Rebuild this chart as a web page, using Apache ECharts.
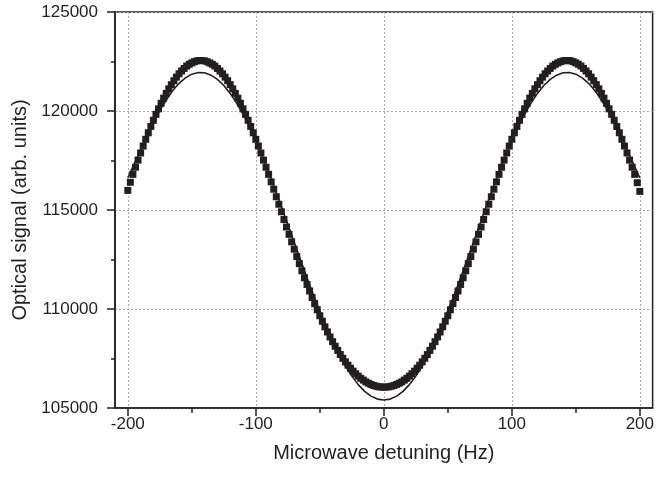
<!DOCTYPE html>
<html>
<head>
<meta charset="utf-8">
<script src="https://cdn.jsdelivr.net/npm/echarts@6.0.0/dist/echarts.min.js"></script>
<style>
html, body { margin: 0; padding: 0; background: #fff; }
#main { width: 657px; height: 479px; }
</style>
</head>
<body>
<div id="main"></div>
<script>
// measured points, 2 Hz steps
var detuning = [
    -200, -198, -196, -194, -192, -190, -188, -186, -184, -182,
    -180, -178, -176, -174, -172, -170, -168, -166, -164, -162,
    -160, -158, -156, -154, -152, -150, -148, -146, -144, -142,
    -140, -138, -136, -134, -132, -130, -128, -126, -124, -122,
    -120, -118, -116, -114, -112, -110, -108, -106, -104, -102,
    -100, -98, -96, -94, -92, -90, -88, -86, -84, -82,
    -80, -78, -76, -74, -72, -70, -68, -66, -64, -62,
    -60, -58, -56, -54, -52, -50, -48, -46, -44, -42,
    -40, -38, -36, -34, -32, -30, -28, -26, -24, -22,
    -20, -18, -16, -14, -12, -10, -8, -6, -4, -2,
    0,
    2, 4, 6, 8, 10, 12, 14, 16, 18, 20,
    22, 24, 26, 28, 30, 32, 34, 36, 38, 40,
    42, 44, 46, 48, 50, 52, 54, 56, 58, 60,
    62, 64, 66, 68, 70, 72, 74, 76, 78, 80,
    82, 84, 86, 88, 90, 92, 94, 96, 98, 100,
    102, 104, 106, 108, 110, 112, 114, 116, 118, 120,
    122, 124, 126, 128, 130, 132, 134, 136, 138, 140,
    142, 144, 146, 148, 150, 152, 154, 156, 158, 160,
    162, 164, 166, 168, 170, 172, 174, 176, 178, 180,
    182, 184, 186, 188, 190, 192, 194, 196, 198, 200
];
var signal = [
    115990, 116400, 116800, 117160, 117520, 117880, 118230, 118570, 118900, 119220,
    119530, 119830, 120110, 120390, 120650, 120890, 121120, 121330, 121530, 121710,
    121880, 122020, 122150, 122270, 122360, 122430, 122490, 122530, 122550, 122550,
    122530, 122490, 122430, 122360, 122270, 122150, 122020, 121880, 121710, 121530,
    121330, 121120, 120890, 120650, 120390, 120110, 119830, 119530, 119220, 118900,
    118570, 118230, 117880, 117520, 117160, 116800, 116420, 116050, 115670, 115290,
    114910, 114520, 114140, 113770, 113390, 113020, 112650, 112290, 111930, 111580,
    111240, 110910, 110580, 110270, 109960, 109660, 109380, 109100, 108840, 108590,
    108350, 108120, 107910, 107700, 107510, 107330, 107160, 107010, 106860, 106730,
    106610, 106500, 106410, 106320, 106250, 106190, 106140, 106100, 106070, 106060,
    106050,
    106060, 106070, 106100, 106140, 106190, 106250, 106320, 106410, 106500, 106610,
    106730, 106860, 107010, 107160, 107330, 107510, 107700, 107910, 108120, 108350,
    108590, 108840, 109100, 109380, 109660, 109960, 110270, 110580, 110910, 111240,
    111580, 111930, 112290, 112650, 113020, 113390, 113770, 114140, 114520, 114910,
    115290, 115670, 116050, 116420, 116800, 117160, 117520, 117880, 118230, 118570,
    118900, 119220, 119530, 119830, 120110, 120390, 120650, 120890, 121120, 121330,
    121530, 121710, 121880, 122020, 122150, 122270, 122360, 122430, 122490, 122530,
    122550, 122550, 122530, 122490, 122430, 122360, 122270, 122150, 122020, 121880,
    121710, 121530, 121330, 121120, 120890, 120650, 120390, 120110, 119830, 119530,
    119220, 118900, 118570, 118230, 117880, 117520, 117160, 116800, 116380, 115940
];
// fitted curve
var fitDetuning = [
    -200, -195, -190, -185, -180, -175, -170, -165, -160, -155,
    -150, -145, -140, -135, -130, -125, -120, -115, -110, -105,
    -100, -95, -90, -85, -80, -75, -70, -65, -60, -55,
    -50, -45, -40, -35, -30, -25, -20, -15, -10, -5,
    0,
    5, 10, 15, 20, 25, 30, 35, 40, 45, 50,
    55, 60, 65, 70, 75, 80, 85, 90, 95, 100,
    105, 110, 115, 120, 125, 130, 135, 140, 145, 150,
    155, 160, 165, 170, 175, 180, 185, 190, 195, 200
];
var fitSignal = [
    116620, 117330, 118040, 118760, 119440, 120020, 120550, 121020, 121400, 121670,
    121860, 121940, 121930, 121810, 121600, 121290, 120890, 120400, 119840, 119210,
    118490, 117730, 116910, 116060, 115180, 114280, 113370, 112470, 111580, 110720,
    109900, 109120, 108380, 107720, 107120, 106610, 106180, 105840, 105600, 105450,
    105400,
    105450, 105600, 105840, 106180, 106610, 107120, 107720, 108380, 109120, 109900,
    110720, 111580, 112470, 113370, 114280, 115180, 116060, 116910, 117730, 118490,
    119210, 119840, 120400, 120890, 121290, 121600, 121810, 121930, 121940, 121860,
    121670, 121400, 121020, 120550, 120020, 119440, 118760, 118040, 117330, 116620
];
var xTicks = [-200, -100, 0, 100, 200];
var xMinorTicks = [-150, -50, 50, 150];

var ink = '#231f20';
var font = 'Liberation Sans';

var points = [];
for (var i = 0; i < detuning.length; i++) {
    points.push([detuning[i], signal[i]]);
}
var fit = [];
for (var j = 0; j < fitDetuning.length; j++) {
    fit.push([fitDetuning[j], fitSignal[j]]);
}

var myChart = echarts.init(document.getElementById('main'));
var option = {
    animation: false,
    backgroundColor: '#fff',
    grid: {
        left: 115, right: 1, top: 12, bottom: 71,
        show: true, borderColor: ink, borderWidth: 1.5
    },
    xAxis: [{
        type: 'value',
        min: -210,
        max: 210,
        name: 'Microwave detuning (Hz)',
        nameLocation: 'middle',
        nameGap: 35,
        nameTextStyle: { fontFamily: font, fontSize: 20, color: ink },
        axisLine: { onZero: false, lineStyle: { color: ink, width: 1.5 } },
        axisTick: { customValues: xTicks, inside: false, length: 8, lineStyle: { color: ink, width: 1.5 } },
        axisLabel: { customValues: xTicks, margin: 8, fontFamily: font, fontSize: 17, color: ink },
        splitLine: { show: true, lineStyle: { color: '#aaaaaa', type: [2, 2], width: 1 } }
    }, {
        // minor ticks only
        type: 'value',
        min: -210,
        max: 210,
        position: 'bottom',
        axisLine: { show: false, onZero: false },
        axisTick: { customValues: xMinorTicks, inside: false, length: 5, lineStyle: { color: ink, width: 1.5 } },
        axisLabel: { show: false },
        splitLine: { show: false }
    }],
    yAxis: {
        type: 'value',
        min: 105000,
        max: 125000,
        interval: 5000,
        name: 'Optical signal (arb. units)',
        nameLocation: 'middle',
        nameGap: 80,
        nameTextStyle: { fontFamily: font, fontSize: 20, color: ink },
        axisLine: { show: true, onZero: false, lineStyle: { color: ink, width: 1.5 } },
        axisTick: { show: true, inside: false, length: 8, lineStyle: { color: ink, width: 1.5 } },
        minorTick: { show: true, splitNumber: 2, length: 4, lineStyle: { color: ink, width: 1.5 } },
        axisLabel: {
            margin: 17, fontFamily: font, fontSize: 17, color: ink,
            formatter: function(v) { return String(v); }
        },
        splitLine: { show: true, lineStyle: { color: '#aaaaaa', type: [2, 2], width: 1 } }
    },
    series: [{
        type: 'scatter',
        data: points,
        symbol: 'rect',
        symbolSize: 7,
        itemStyle: { color: ink, opacity: 1 },
        z: 2
    }, {
        type: 'line',
        data: fit,
        showSymbol: false,
        symbol: 'none',
        lineStyle: { color: ink, width: 1.6 },
        z: 3
    }]
};
myChart.setOption(option);
</script>
</body>
</html>
